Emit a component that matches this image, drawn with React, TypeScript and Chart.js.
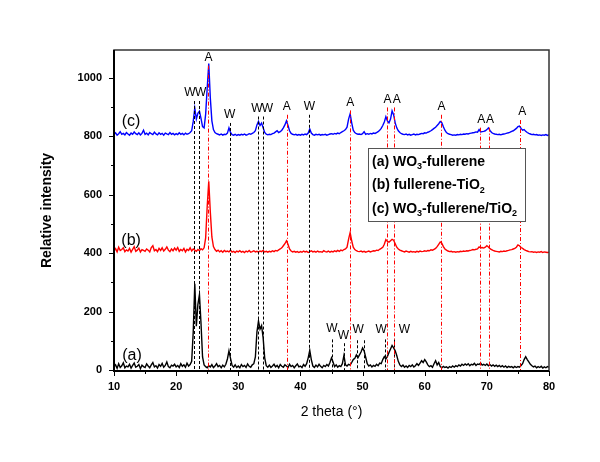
import React, { useEffect, useRef } from 'react';
import { Chart, registerables } from 'chart.js';

Chart.register(...registerables);

const FONT = '"Liberation Sans", Arial, Helvetica, sans-serif';

// 2-theta sampling of the three patterns
const ANGLE_START = 10;
const ANGLE_STEP = 0.25;

// (a) WO3-fullerene
const SERIES_A = [
  12, 18, 6, 22, 9, 15, 25, 8, 14, 11, 20, 7, 16, 24, 10, 13, 19, 5, 17, 12,
  9, 21, 14, 8, 18, 26, 11, 15, 7, 19, 13, 23, 10, 16, 28, 12, 8, 17, 14, 20,
  11, 16, 9, 22, 13, 18, 10, 24, 14, 19, 30, 130, 295, 150, 225, 258, 160, 45, 18, 12,
  8, 15, 11, 19, 9, 14, 22, 12, 16, 8, 17, 11, 20, 38, 66, 40, 16, 10, 18, 9,
  14, 8, 19, 12, 16, 9, 21, 13, 10, 18, 22, 45, 130, 168, 140, 152, 110, 42, 15, 10,
  17, 9, 14, 20, 11, 16, 8, 19, 13, 10, 18, 14, 9, 20, 12, 16, 8, 15, 21, 11,
  14, 9, 19, 13, 22, 42, 68, 36, 14, 9, 17, 11, 20, 13, 8, 16, 12, 19, 14, 26,
  42, 28, 12, 18, 10, 15, 12, 22, 50, 18, 14, 20, 17, 26, 36, 40, 52, 42, 52, 62,
  76, 66, 44, 22, 14, 18, 11, 16, 13, 20, 15, 24, 22, 36, 46, 38, 47, 60, 72, 84,
  76, 66, 50, 30, 18, 12, 17, 10, 14, 9, 16, 12, 18, 11, 15, 22, 16, 24, 32, 26,
  36, 28, 18, 12, 15, 10, 22, 32, 18, 26, 12, 8, 13, 9, 11, 7, 12, 9, 14, 10,
  15, 12, 18, 14, 20, 16, 21, 17, 22, 15, 20, 18, 23, 16, 21, 19, 24, 17, 20, 16,
  21, 15, 19, 14, 18, 13, 17, 12, 16, 11, 15, 10, 14, 9, 13, 10, 12, 8, 13, 9,
  12, 10, 16, 22, 36, 46, 36, 28, 20, 15, 11, 14, 8, 12, 9, 13, 7, 11, 8, 12,
  10,
];

// (b) fullerene-TiO2
const SERIES_B = [
  408, 415, 404, 420, 409, 412, 418, 405, 411, 407, 416, 403, 413, 422, 406, 410, 417, 404, 412, 409,
  406, 414, 410, 404, 419, 425, 408, 412, 405, 416, 409, 418, 407, 413, 421, 410, 405, 414, 408, 417,
  410, 419, 406, 412, 408, 416, 404, 413, 409, 418, 407, 414, 410, 406, 412, 408, 415, 411, 418, 452,
  560, 645, 540, 455, 422, 412, 406, 410, 404, 408, 403, 409, 405, 407, 404, 410, 403, 406, 402, 407,
  404, 408, 403, 406, 402, 407, 404, 409, 403, 405, 408, 404, 406, 403, 407, 405, 409, 404, 406, 403,
  406, 404, 408, 405, 409, 407, 411, 414, 418, 425, 432, 442, 430, 414, 407, 404, 406, 403, 405, 402,
  405, 403, 407, 404, 406, 402, 405, 408, 404, 406, 403, 407, 404, 405, 403, 408, 405, 404, 407, 403,
  406, 404, 408, 405, 409, 406, 410, 408, 412, 414, 420, 448, 470, 442, 420, 412, 408, 406, 405, 407,
  404, 406, 403, 405, 407, 404, 406, 408, 407, 410, 409, 413, 416, 420, 430, 446, 440, 437, 442, 447,
  444, 432, 420, 414, 410, 408, 406, 404, 407, 405, 403, 406, 404, 405, 403, 406, 404, 407, 405, 406,
  408, 406, 409, 408, 411, 410, 413, 416, 422, 430, 438, 434, 422, 414, 410, 407, 405, 406, 404, 405,
  403, 405, 404, 406, 405, 407, 406, 408, 407, 409, 410, 412, 411, 413, 414, 421, 418, 419, 417, 420,
  425, 421, 415, 412, 409, 407, 406, 405, 404, 406, 405, 407, 406, 408, 409, 411, 412, 414, 416, 420,
  428, 425, 419, 416, 412, 409, 407, 405, 404, 405, 403, 404, 402, 404, 403, 405, 402, 404, 403, 402,
  403,
];

// (c) WO3-fullerene/TiO2
const SERIES_C = [
  805, 811, 803, 808, 815, 806, 809, 804, 812, 807, 803, 810, 806, 814, 808, 805, 811, 804, 809, 820,
  806, 810, 804, 812, 808, 805, 813, 807, 804, 811, 806, 809, 803, 810, 807, 805, 812, 806, 809, 804,
  808, 805, 811, 806, 809, 804, 810, 806, 808, 812, 818, 850, 895, 858, 878, 885, 860, 832, 828, 875,
  965, 1048, 930, 852, 822, 812, 808, 806, 804, 807, 803, 806, 805, 810, 828, 812, 805, 803, 806, 802,
  805, 803, 806, 804, 807, 803, 805, 808, 806, 809, 812, 818, 838, 850, 836, 844, 828, 812, 806, 804,
  806, 805, 808, 810, 814, 818, 812, 815, 820, 828, 838, 852, 836, 818, 809, 806, 804, 806, 803, 805,
  803, 806, 804, 807, 805, 810, 824, 810, 805, 803, 806, 804, 806, 803, 805, 804, 806, 803, 805, 807,
  808, 806, 809, 807, 810, 808, 812, 815, 818, 822, 830, 858, 876, 845, 820, 812, 808, 806, 807, 805,
  808, 815, 806, 808, 806, 809, 807, 810, 809, 812, 815, 820, 826, 836, 848, 866, 852, 845, 858, 886,
  872, 845, 828, 818, 812, 808, 806, 805, 807, 804, 806, 803, 805, 807, 804, 806, 805, 807, 809, 808,
  811, 810, 813, 815, 818, 822, 826, 830, 836, 842, 850, 846, 832, 820, 812, 808, 806, 805, 803, 804,
  803, 805, 804, 806, 805, 807, 806, 808, 807, 809, 810, 811, 812, 814, 813, 822, 814, 815, 816, 818,
  822, 828, 819, 812, 809, 807, 806, 805, 806, 804, 806, 807, 808, 810, 811, 813, 816, 818, 822, 826,
  832, 834, 826, 820, 822, 816, 812, 809, 807, 805, 806, 804, 805, 803, 804, 802, 804, 803, 805, 802,
  804,
];

const X_TICKS = [10, 20, 30, 40, 50, 60, 70, 80];
const X_MINOR_TICKS = [15, 25, 35, 45, 55, 65, 75];
const Y_TICKS = [0, 200, 400, 600, 800, 1000];
const Y_MINOR_TICKS = [100, 300, 500, 700, 900];

// WO3 reflections (black dashed) marked above pattern (c): line angle, label angle, label level
const W_MARKS = [
  { at: 22.93, lx: 22.2, ly: 947 },
  { at: 23.7, lx: 23.95, ly: 947 },
  { at: 28.6, lx: 28.6, ly: 872 },
  { at: 33.2, lx: 33.0, ly: 894 },
  { at: 33.95, lx: 34.7, ly: 894 },
  { at: 41.45, lx: 41.45, ly: 900 },
];
// anatase reflections (red dash-dot)
const A_MARKS = [
  { at: 25.2, lx: 25.2, ly: 1068 },
  { at: 37.8, lx: 37.8, ly: 900 },
  { at: 48.0, lx: 48.0, ly: 915 },
  { at: 53.9, lx: 54.0, ly: 925 },
  { at: 55.1, lx: 55.5, ly: 925 },
  { at: 62.7, lx: 62.7, ly: 900 },
  { at: 68.9, lx: 69.1, ly: 856 },
  { at: 70.3, lx: 70.5, ly: 856 },
  { at: 75.3, lx: 75.7, ly: 882 },
];
// WO3 reflections marked above pattern (a): short dashes
const W_LOW_LINES = [
  { at: 45.15, top: 105 },
  { at: 47.0, top: 92 },
  { at: 49.1, top: 102 },
  { at: 50.15, top: 102 },
  { at: 53.6, top: 105 },
  { at: 55.0, top: 105 },
];
const W_LOW_LABELS = [
  { lx: 45.05, ly: 140 },
  { lx: 46.9, ly: 116 },
  { lx: 49.3, ly: 137 },
  { lx: 53.0, ly: 137 },
  { lx: 56.75, ly: 137 },
];

const SERIES_TAGS = [
  { text: '(a)', lx: 12.9, ly: 51 },
  { text: '(b)', lx: 12.75, ly: 444 },
  { text: '(c)', lx: 12.75, ly: 849 },
];

const LEGEND_ITEMS = [
  [['(a) WO', false], ['3', true], ['-fullerene', false]],
  [['(b) fullerene-TiO', false], ['2', true]],
  [['(c) WO', false], ['3', true], ['-fullerene/TiO', false], ['2', true]],
];

const X_TITLE = '2 theta (\u00B0)';
const Y_TITLE = 'Relative intensity';

function toPoints(values: number[]) {
  return values.map((v, i) => ({ x: ANGLE_START + i * ANGLE_STEP, y: v }));
}

const overlay = {
  id: 'overlay',
  afterDatasetsDraw(chart: any) {
    const { ctx, chartArea: ca, scales } = chart;
    const xs = scales.x;
    const ys = scales.y;
    ctx.save();
    ctx.beginPath();
    ctx.rect(ca.left, ca.top, ca.right - ca.left, ca.bottom - ca.top);
    ctx.clip();
    ctx.lineWidth = 1;
    const y0 = ys.getPixelForValue(0);
    // black dashed W lines
    ctx.strokeStyle = '#000';
    ctx.setLineDash([3, 2]);
    W_MARKS.forEach((m) => {
      const x = Math.round(xs.getPixelForValue(m.at)) + 0.5;
      const top = ys.getPixelForValue(m.ly) + 8;
      ctx.beginPath();
      ctx.moveTo(x, top);
      ctx.lineTo(x, y0);
      ctx.stroke();
    });
    W_LOW_LINES.forEach((m) => {
      const x = Math.round(xs.getPixelForValue(m.at)) + 0.5;
      ctx.beginPath();
      ctx.moveTo(x, ys.getPixelForValue(m.top));
      ctx.lineTo(x, y0);
      ctx.stroke();
    });
    // red dash-dot A lines
    ctx.strokeStyle = '#ff0000';
    ctx.setLineDash([4, 2, 1, 2]);
    A_MARKS.forEach((m) => {
      const x = Math.round(xs.getPixelForValue(m.at)) + 0.5;
      const top = ys.getPixelForValue(m.ly) + 8;
      ctx.beginPath();
      ctx.moveTo(x, top);
      ctx.lineTo(x, y0);
      ctx.stroke();
    });
    ctx.setLineDash([]);
    // labels
    ctx.fillStyle = '#000';
    ctx.font = `12px ${FONT}`;
    ctx.textAlign = 'center';
    ctx.textBaseline = 'middle';
    W_MARKS.forEach((m) => ctx.fillText('W', xs.getPixelForValue(m.lx), ys.getPixelForValue(m.ly)));
    A_MARKS.forEach((m) => ctx.fillText('A', xs.getPixelForValue(m.lx), ys.getPixelForValue(m.ly)));
    W_LOW_LABELS.forEach((m) => ctx.fillText('W', xs.getPixelForValue(m.lx), ys.getPixelForValue(m.ly)));
    ctx.font = `16px ${FONT}`;
    SERIES_TAGS.forEach((t) => ctx.fillText(t.text, xs.getPixelForValue(t.lx), ys.getPixelForValue(t.ly)));
    ctx.restore();
  },
  afterDraw(chart: any) {
    const { ctx, chartArea: ca, scales } = chart;
    const xs = scales.x;
    const ys = scales.y;
    ctx.save();
    // frame
    ctx.strokeStyle = '#333';
    ctx.lineWidth = 1.5;
    ctx.strokeRect(ca.left, ca.top, ca.right - ca.left, ca.bottom - ca.top);
    ctx.strokeStyle = '#000';
    ctx.lineWidth = 2;
    ctx.beginPath();
    ctx.moveTo(ca.left, ca.top);
    ctx.lineTo(ca.left, ca.bottom);
    ctx.lineTo(ca.right, ca.bottom);
    ctx.stroke();
    // ticks
    ctx.lineWidth = 1;
    ctx.beginPath();
    X_TICKS.forEach((v) => {
      const x = Math.round(xs.getPixelForValue(v)) + 0.5;
      ctx.moveTo(x, ca.bottom);
      ctx.lineTo(x, ca.bottom + 5);
    });
    X_MINOR_TICKS.forEach((v) => {
      const x = Math.round(xs.getPixelForValue(v)) + 0.5;
      ctx.moveTo(x, ca.bottom);
      ctx.lineTo(x, ca.bottom + 3);
    });
    Y_TICKS.forEach((v) => {
      const y = Math.round(ys.getPixelForValue(v)) + 0.5;
      ctx.moveTo(ca.left, y);
      ctx.lineTo(ca.left - 5, y);
    });
    Y_MINOR_TICKS.forEach((v) => {
      const y = Math.round(ys.getPixelForValue(v)) + 0.5;
      ctx.moveTo(ca.left, y);
      ctx.lineTo(ca.left - 3, y);
    });
    ctx.stroke();
    // axis titles
    ctx.fillStyle = '#000';
    ctx.textAlign = 'center';
    ctx.textBaseline = 'middle';
    ctx.font = `14px ${FONT}`;
    ctx.fillText(X_TITLE, (ca.left + ca.right) / 2, 412);
    ctx.save();
    ctx.translate(47, (ca.top + ca.bottom) / 2);
    ctx.rotate(-Math.PI / 2);
    ctx.font = `bold 14px ${FONT}`;
    ctx.fillText(Y_TITLE, 0, 0);
    ctx.restore();
    // legend box
    const bx = 368, by = 148, bw = 157, bh = 73;
    ctx.fillStyle = '#fff';
    ctx.fillRect(bx, by, bw, bh);
    ctx.strokeStyle = '#555';
    ctx.lineWidth = 1;
    ctx.strokeRect(bx + 0.5, by + 0.5, bw, bh);
    ctx.fillStyle = '#000';
    ctx.textAlign = 'left';
    ctx.textBaseline = 'middle';
    LEGEND_ITEMS.forEach((parts: any, i: number) => {
      let x = bx + 4;
      const y = by + 14 + i * 23.5;
      parts.forEach(([t, sub]: [string, boolean]) => {
        ctx.font = sub ? `bold 9px ${FONT}` : `bold 14px ${FONT}`;
        ctx.fillText(t, x, sub ? y + 5 : y);
        x += ctx.measureText(t).width;
      });
    });
    ctx.restore();
  },
};

export default function App() {
  const ref = useRef<HTMLCanvasElement>(null);
  useEffect(() => {
    if (!ref.current) return;
    const chart = new Chart(ref.current, {
      type: 'line',
      data: {
        datasets: [
          { label: 'a', data: toPoints(SERIES_A), borderColor: '#000000', borderWidth: 1.4, pointRadius: 0, tension: 0 },
          { label: 'b', data: toPoints(SERIES_B), borderColor: '#ff0000', borderWidth: 1.4, pointRadius: 0, tension: 0 },
          { label: 'c', data: toPoints(SERIES_C), borderColor: '#0000ff', borderWidth: 1.4, pointRadius: 0, tension: 0 },
        ],
      },
      options: {
        animation: false,
        responsive: false,
        events: [],
        layout: { padding: { top: 50, right: 51, left: 0, bottom: 0 } },
        plugins: { legend: { display: false }, tooltip: { enabled: false } },
        scales: {
          x: {
            type: 'linear',
            min: 10,
            max: 80,
            afterBuildTicks: (s: any) => { s.ticks = X_TICKS.map((v) => ({ value: v })); },
            afterFit: (s: any) => { s.height = 91; },
            grid: { display: false, drawTicks: false },
            border: { display: false },
            ticks: { color: '#000', font: { family: FONT, size: 11, weight: 'bold' }, padding: 9, maxRotation: 0, autoSkip: false, callback: (v: any) => String(v) },
          },
          y: {
            type: 'linear',
            min: -3,
            max: 1094,
            afterBuildTicks: (s: any) => { s.ticks = Y_TICKS.map((v) => ({ value: v })); },
            afterFit: (s: any) => { s.width = 114; },
            grid: { display: false, drawTicks: false },
            border: { display: false },
            ticks: { color: '#000', font: { family: FONT, size: 11, weight: 'bold' }, padding: 12, autoSkip: false, callback: (v: any) => String(v) },
          },
        },
      } as any,
      plugins: [overlay],
    });
    return () => chart.destroy();
  }, []);
  return (
    <div style={{ position: 'fixed', left: 0, top: 0, width: 600, height: 462, background: '#fff' }}>
      <canvas ref={ref} width={600} height={462} style={{ display: 'block' }} />
    </div>
  );
}
